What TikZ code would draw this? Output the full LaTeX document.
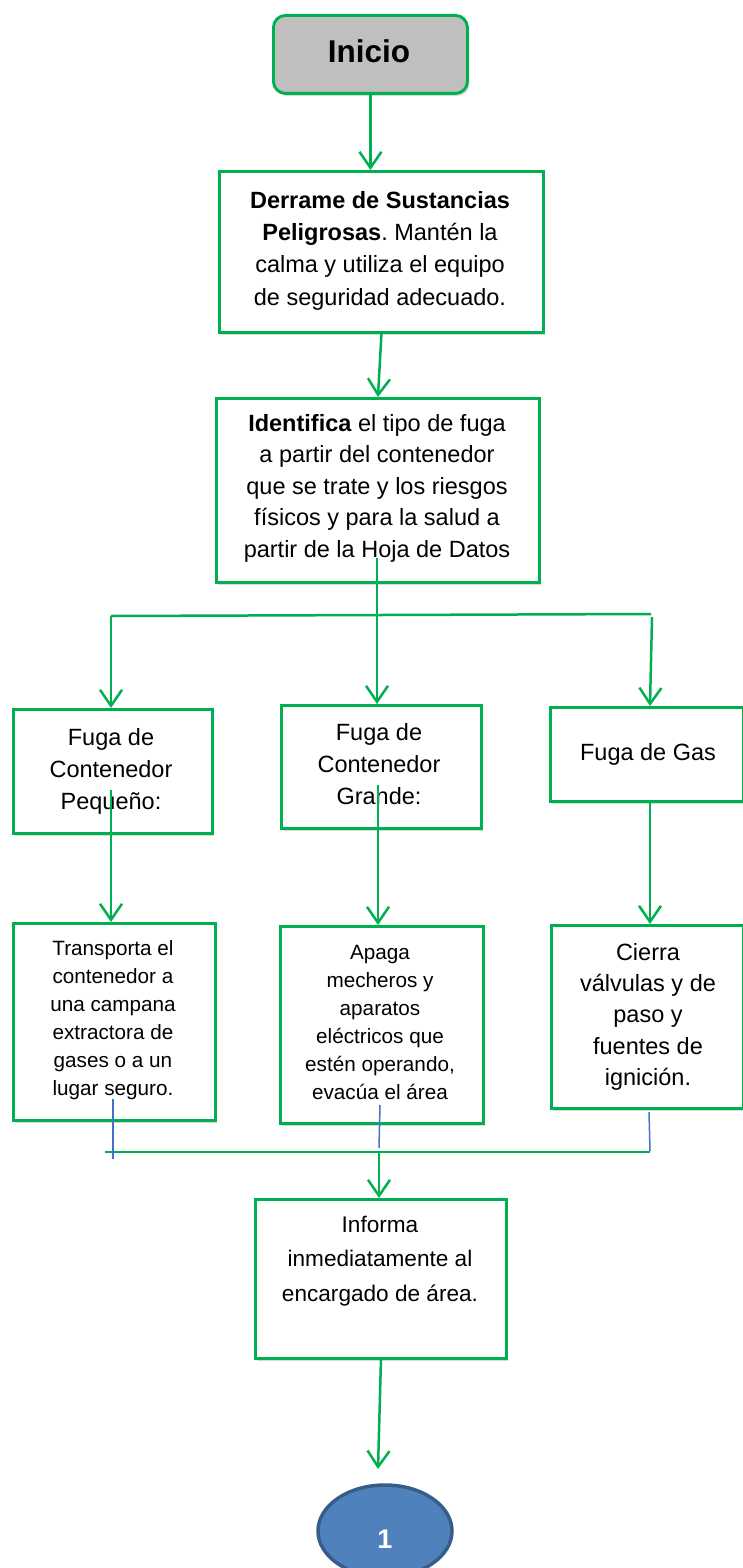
\documentclass[tikz,border=0pt]{standalone}
\usepackage{fontspec}
\setmainfont{Liberation Sans}
\newfontfamily\plainfont{Liberation Sans}
\usetikzlibrary{arrows.meta,shadows,shapes.geometric}
\frenchspacing
\definecolor{gline}{HTML}{00B050}
\definecolor{bline}{HTML}{4472C4}
\definecolor{efill}{HTML}{4F81BD}
\definecolor{edraw}{HTML}{385D8A}
\definecolor{ggray}{HTML}{BFBFBF}
\tikzset{
  box/.style={draw=gline, line width=2.9pt, fill=white, inner sep=0pt, anchor=north west,
    general shadow={fill=black, opacity=0.15, shadow xshift=2pt, shadow yshift=-2.5pt}},
  txt/.style={align=center, inner sep=0pt, anchor=north, text=black},
  big/.style={font=\fontsize{23.5}{32.3}\selectfont},
  small/.style={font=\fontsize{20.7}{28}\selectfont},
  gl/.style={draw=gline, line width=2.5pt},
  bl/.style={draw=bline, line width=1.5pt},
  arr/.style={draw=gline, line width=2.5pt, -{Straight Barb[length=16pt,width=22pt,line width=2.5pt]}},
}
\begin{document}
\begin{tikzpicture}[x=1pt,y=-1pt]
\useasboundingbox (0,0) rectangle (743,1568);
\fill[white] (0,0) rectangle (743,1568);
\clip (0,0) rectangle (743,1568);

% boxes
\node[box, fill=ggray, rounded corners=12pt, minimum width=194pt, minimum height=78pt] (ini) at (272,14) {};
\node[box, minimum width=324pt, minimum height=161pt] (b1) at (218,170) {};
\node[box, minimum width=323pt, minimum height=184pt] (b2) at (215,397) {};
\node[box, minimum width=199pt, minimum height=124pt] (c1) at (12,708) {};
\node[box, minimum width=200pt, minimum height=123pt] (c2) at (280,704) {};
\node[box, minimum width=193pt, minimum height=94pt] (c3) at (549,706) {};
\node[box, minimum width=202pt, minimum height=197pt] (d1) at (12,922) {};
\node[box, minimum width=203pt, minimum height=197pt] (d2) at (279,925) {};
\node[box, minimum width=192pt, minimum height=183pt] (d3) at (550,924) {};
\node[box, minimum width=251pt, minimum height=159pt] (inf) at (254,1198) {};
\node[ellipse, draw=edraw, line width=3.5pt, fill=efill, minimum width=134pt, minimum height=92pt, inner sep=0pt] (ell) at (385,1531) {};

% texts
\node[anchor=base, inner sep=0pt, font=\plainfont\bfseries\fontsize{31.5}{36}\selectfont] (tini) at (369,63) {Inicio};
\node[txt, big] (t1) at (380,191.1) {\textbf{Derrame de Sustancias}\\\textbf{Peligrosas}. Mantén la\\calma y utiliza el equipo\\de seguridad adecuado.};
\node[txt, font=\fontsize{23.5}{31.5}\selectfont] (t2) at (377,414.1) {\textbf{Identifica} el tipo de fuga\\a partir del contenedor\\que se trate y los riesgos\\físicos y para la salud a\\partir de la Hoja de Datos};
\node[txt, font=\fontsize{23.5}{32}\selectfont] (tc1) at (111,728.1) {Fuga de\\Contenedor\\Pequeño:};
\node[txt, font=\fontsize{23.5}{32}\selectfont] (tc2) at (379,723.1) {Fuga de\\Contenedor\\Grande:};
\node[txt, big] (tc3) at (648,743.1) {Fuga de Gas};
\node[txt, small] (td1) at (113,940.1) {Transporta el\\contenedor a\\una campana\\extractora de\\gases o a un\\lugar seguro.};
\node[txt, small] (td2) at (380,945.1) {Apaga\\mecheros y\\aparatos\\eléctricos que\\estén operando,\\evacúa el área};
\node[txt, font=\fontsize{23.5}{31.3}\selectfont] (td3) at (648,943.1) {Cierra\\válvulas y de\\paso y\\fuentes de\\ignición.};
\node[txt, font=\fontsize{22.6}{34.5}\selectfont] (tinf) at (380,1215.7) {Informa\\inmediatamente al\\encargado de área.};
\node[anchor=base, inner sep=0pt, text=white, font=\plainfont\bfseries\fontsize{27}{30}\selectfont] (tone) at (385,1548) {1};

% connectors
\draw[arr] (ini.south) -- (ini.south |- b1.north);
\draw[arr] (b1.south) -- (b2.north);

\coordinate (s2) at (377,558);
\coordinate (hl) at (111,616);
\coordinate (hr) at (651,614);
\coordinate (hr2) at (652,617);
\draw[gl] (s2) -- (s2 |- hl);
\draw[gl] (hl) -- (hr);
\draw[arr] (s2 |- hl) -- (s2 |- c2.north);
\draw[arr] (hl) -- (hl |- c1.north);
\draw[arr] (hr2) -- (650,706);

\coordinate (sc1) at (111,790);
\coordinate (sc2) at (378,785);
\coordinate (sc3) at (650,800);
\draw[arr] (sc1) -- (sc1 |- d1.north);
\draw[arr] (sc2) -- (sc2 |- d2.north);
\draw[arr] (sc3) -- (sc3 |- d3.north);

\coordinate (u1) at (113,1099);
\coordinate (u2) at (380,1105);
\coordinate (u3) at (649,1112);
\coordinate (jl) at (105,1152);
\coordinate (jr) at (650,1152);
\coordinate (jm) at (379,1152);
\draw[gl] (jl) -- (jr);
\draw[bl] (u1) -- (113,1159);
\draw[bl] (u2) -- (379,1148);
\draw[bl] (u3) -- (650,1151);
\draw[arr] (jm) -- (jm |- inf.north);

\coordinate (e1) at (378,1469);
\draw[arr] (inf.south) -- (e1);
\end{tikzpicture}
\end{document}
